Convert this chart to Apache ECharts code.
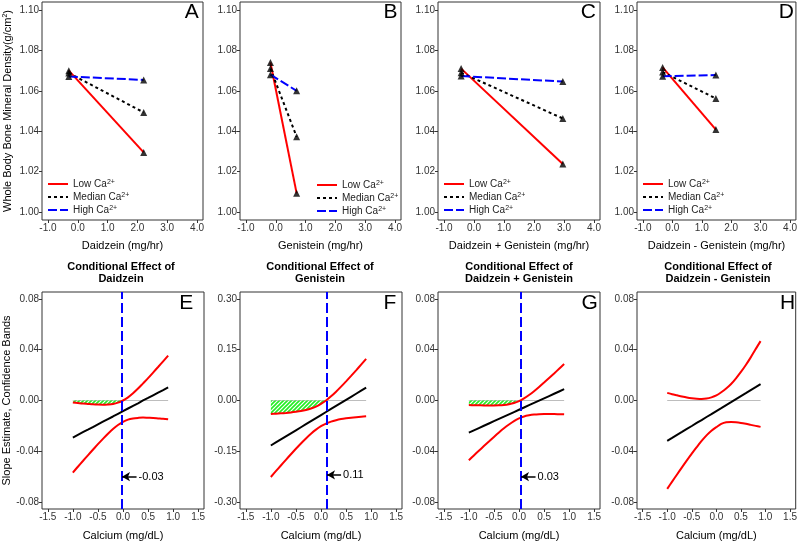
<!DOCTYPE html>
<html><head><meta charset="utf-8">
<script src="https://cdn.jsdelivr.net/npm/echarts@6/dist/echarts.min.js"></script>
<style>html,body{margin:0;padding:0;background:#fff}#c{width:800px;height:543px}</style>
</head><body><div id="c"></div>
<script>
// ---------- Top row: predicted BMD (g/cm2) at low / median / high calcium ----------
const xA = [-0.30, 2.21];
const lowA = [1.0700, 1.0295];
const medA = [1.0688, 1.0493];
const highA = [1.0671, 1.0654];

const xB = [-0.18, 0.70];
const lowB = [1.0740, 1.0092];
const medB = [1.0710, 1.0372];
const highB = [1.0680, 1.0600];

const xC = [-0.43, 2.96];
const lowC = [1.0710, 1.0237];
const medC = [1.0690, 1.0463];
const highC = [1.0673, 1.0646];

const xD = [-0.33, 1.48];
const lowD = [1.0716, 1.0408];
const medD = [1.0693, 1.0562];
const highD = [1.0672, 1.0678];

const topXTicks = [-1, 0, 1, 2, 3, 4];
const topYTicks = [1.00, 1.02, 1.04, 1.06, 1.08, 1.10];

// ---------- Bottom row: conditional slope estimate and confidence bands ----------
const calX = [-1.0,-0.9,-0.8,-0.7,-0.6,-0.5,-0.4,-0.3,-0.2,-0.1,0.0,0.1,0.2,0.3,0.4,0.5,0.6,0.7,0.8,0.9];

const estE = [-0.0292,-0.0271,-0.0250,-0.0230,-0.0209,-0.0188,-0.0167,-0.0146,-0.0126,-0.0105,-0.0084,-0.0063,-0.0042,-0.0022,0.0001,0.0020,0.0041,0.0062,0.0082,0.0103];
const upE  = [-0.0016,-0.0020,-0.0024,-0.0027,-0.0030,-0.0032,-0.0033,-0.0031,-0.0027,-0.0017,0.0000,0.0025,0.0057,0.0094,0.0135,0.0176,0.0220,0.0264,0.0309,0.0354];
const loE  = [-0.0568,-0.0522,-0.0477,-0.0432,-0.0388,-0.0344,-0.0302,-0.0262,-0.0225,-0.0193,-0.0168,-0.0151,-0.0142,-0.0137,-0.0134,-0.0136,-0.0138,-0.0141,-0.0144,-0.0148];
const jnE = -0.03;

const estF = [-0.133,-0.124,-0.115,-0.106,-0.097,-0.088,-0.079,-0.070,-0.061,-0.052,-0.043,-0.034,-0.025,-0.016,-0.007,0.002,0.011,0.020,0.029,0.038];
const upF  = [-0.0400,-0.0391,-0.0380,-0.0368,-0.0353,-0.0334,-0.0311,-0.0279,-0.0237,-0.0179,-0.0100,0.0001,0.0123,0.0261,0.0409,0.0566,0.0727,0.0892,0.1060,0.1229];
const loF  = [-0.2260,-0.2089,-0.1920,-0.1752,-0.1587,-0.1426,-0.1269,-0.1121,-0.0983,-0.0861,-0.0760,-0.0681,-0.0623,-0.0581,-0.0549,-0.0526,-0.0507,-0.0492,-0.0480,-0.0469];
const jnF = 0.11;

const estG = [-0.0253,-0.0235,-0.0217,-0.0199,-0.0181,-0.0163,-0.0145,-0.0127,-0.0109,-0.0091,-0.0073,-0.0055,-0.0037,-0.0019,-0.0001,0.0017,0.0035,0.0053,0.0071,0.0089];
const upG  = [-0.0035,-0.0037,-0.0038,-0.0039,-0.0039,-0.0039,-0.0038,-0.0035,-0.0029,-0.0020,-0.0005,0.0016,0.0043,0.0073,0.0106,0.0141,0.0177,0.0213,0.0250,0.0287];
const loG  = [-0.0471,-0.0433,-0.0396,-0.0359,-0.0323,-0.0287,-0.0252,-0.0219,-0.0189,-0.0162,-0.0141,-0.0126,-0.0117,-0.0111,-0.0108,-0.0107,-0.0107,-0.0107,-0.0108,-0.0109];
const jnG = 0.03;

const estH = [-0.0318,-0.0295,-0.0271,-0.0248,-0.0224,-0.0201,-0.0177,-0.0154,-0.0130,-0.0107,-0.0083,-0.0060,-0.0036,-0.0013,0.0011,0.0035,0.0058,0.0082,0.0105,0.0129];
const upH  = [0.0060,0.0050,0.0041,0.0032,0.0024,0.0018,0.0014,0.0012,0.0015,0.0025,0.0040,0.0065,0.0095,0.0130,0.0175,0.0225,0.0280,0.0340,0.0405,0.0468];
const loH  = [-0.0696,-0.0639,-0.0583,-0.0527,-0.0472,-0.0419,-0.0368,-0.0319,-0.0275,-0.0238,-0.0210,-0.0185,-0.0172,-0.0170,-0.0172,-0.0177,-0.0184,-0.0192,-0.0200,-0.0208];

const zeroX = [-1.0, 0.9];
const zeroY = [0, 0];

const botXTicks = [-1.5, -1.0, -0.5, 0.0, 0.5, 1.0, 1.5];
const botYTicksSmall = [-0.08, -0.04, 0.00, 0.04, 0.08];
const botYTicksF = [-0.30, -0.15, 0.00, 0.15, 0.30];

// ---------- build chart ----------
const FONT = '"Liberation Sans", Arial, Helvetica, sans-serif';
const zip = (a, b) => a.map((v, i) => [v, b[i]]);

function hatchPattern() {
  const c = document.createElement('canvas');
  c.width = 4; c.height = 4;
  const g = c.getContext('2d');
  g.fillStyle = 'rgba(255,255,255,0.5)';
  g.fillRect(0, 0, 4, 4);
  g.strokeStyle = '#22ee22';
  g.lineWidth = 1.6;
  g.beginPath();
  g.moveTo(-1, 5); g.lineTo(5, -1);
  g.moveTo(-1, 1); g.lineTo(1, -1);
  g.moveTo(3, 5); g.lineTo(5, 3);
  g.stroke();
  return c;
}
const HATCH = { image: hatchPattern(), repeat: 'repeat' };

const grids = [], xAxes = [], yAxes = [], series = [], legends = [], graphics = [];

function axisBase(ticks, fmtDigits) {
  return {
    axisLine: { show: false, onZero: false },
    splitLine: { show: false },
    axisTick: { show: true, length: 3, lineStyle: { color: '#333', width: 1 }, customValues: ticks },
    axisLabel: { color: '#333', fontSize: 10, fontFamily: FONT, margin: 3, customValues: ticks,
      formatter: v => Number(v).toFixed(fmtDigits) }
  };
}

const topPanels = [
  { x: xA, low: lowA, med: medA, high: highA, name: 'Daidzein (mg/hr)', box: [42, 161], letter: 'A', lc: 191.7, leg: { left: 47, top: 179 } },
  { x: xB, low: lowB, med: medB, high: highB, name: 'Genistein (mg/hr)', box: [240, 161], letter: 'B', lc: 390.5, leg: { left: 316, top: 180 } },
  { x: xC, low: lowC, med: medC, high: highC, name: 'Daidzein + Genistein (mg/hr)', box: [438, 162], letter: 'C', lc: 588.3, leg: { left: 443, top: 179 } },
  { x: xD, low: lowD, med: medD, high: highD, name: 'Daidzein - Genistein (mg/hr)', box: [637, 161], letter: 'D', lc: 786.3, leg: { left: 642, top: 179 } }
];

const styles = {
  Low: { color: '#ff0000', width: 2, type: 'solid' },
  Median: { color: '#000000', width: 2, type: [3, 3] },
  High: { color: '#0000ff', width: 2, type: [9, 3] }
};

topPanels.forEach((p, i) => {
  grids.push({ left: p.box[0], top: 2, width: p.box[1], height: 218, show: true, borderColor: '#333', borderWidth: 1, backgroundColor: '#fff' });
  xAxes.push(Object.assign(axisBase(topXTicks, 1), {
    type: 'value', gridIndex: i, min: -1.2, max: 4.2,
    name: p.name, nameLocation: 'middle', nameGap: 20,
    nameTextStyle: { color: '#000', fontSize: 11, fontFamily: FONT }
  }));
  const ya = Object.assign(axisBase(topYTicks, 2), { type: 'value', gridIndex: i, min: 0.996, max: 1.104 });
  if (i === 0) {
    ya.name = 'Whole Body Bone Mineral Density(g/cm{s|2})';
    ya.nameLocation = 'middle';
    ya.nameGap = 29;
    ya.nameTextStyle = { color: '#000', fontSize: 11, fontFamily: FONT, rich: { s: { fontSize: 7, verticalAlign: 'top', fontFamily: FONT, color: '#000' } } };
  }
  yAxes.push(ya);
  [['Low', p.low], ['Median', p.med], ['High', p.high]].forEach(([nm, ys]) => {
    series.push({ type: 'line', name: nm, xAxisIndex: i, yAxisIndex: i, data: zip(p.x, ys),
      symbol: 'none', lineStyle: styles[nm], itemStyle: { color: styles[nm].color }, z: 2, silent: true });
  });
  const pts = [].concat(zip(p.x, p.low), zip(p.x, p.med), zip(p.x, p.high));
  series.push({ type: 'scatter', name: 'pts' + i, xAxisIndex: i, yAxisIndex: i, data: pts,
    symbol: 'triangle', symbolSize: 7, itemStyle: { color: '#000' }, z: 3, silent: true });
  legends.push({
    orient: 'vertical', left: p.leg.left, top: p.leg.top, itemWidth: 20, itemHeight: 10, itemGap: 3,
    padding: 0, selectedMode: false, data: ['Low', 'Median', 'High'],
    formatter: n => n + ' Ca{s|2+}',
    itemStyle: { opacity: 0 },
    textStyle: { color: '#222', fontSize: 10, fontFamily: FONT, rich: { s: { fontSize: 7, verticalAlign: 'top', color: '#222', fontFamily: FONT } } }
  });
  graphics.push({ type: 'text', x: p.lc, y: 12.5, silent: true,
    style: { text: p.letter, font: '21px ' + FONT, fill: '#000', align: 'center', verticalAlign: 'middle' } });
});

const botPanels = [
  { est: estE, up: upE, lo: loE, jn: jnE, arrowY: -0.06, tail: 0.27, lab: '-0.03', range: 0.0855, ticks: botYTicksSmall, title: 'Daidzein', box: [42, 162], letter: 'E', lc: 186.3, tc: 121 },
  { est: estF, up: upF, lo: loF, jn: jnF, arrowY: -0.22, tail: 0.40, lab: '0.11', range: 0.3206, ticks: botYTicksF, title: 'Genistein', box: [240, 162], letter: 'F', lc: 390, tc: 320 },
  { est: estG, up: upG, lo: loG, jn: jnG, arrowY: -0.06, tail: 0.33, lab: '0.03', range: 0.0855, ticks: botYTicksSmall, title: 'Daidzein + Genistein', box: [438, 162], letter: 'G', lc: 589.7, tc: 519 },
  { est: estH, up: upH, lo: loH, jn: null, range: 0.0855, ticks: botYTicksSmall, title: 'Daidzein - Genistein', box: [637, 161], letter: 'H', lc: 787.5, tc: 718 }
];

botPanels.forEach((p, k) => {
  const i = k + 4;
  grids.push({ left: p.box[0], top: 292, width: p.box[1], height: 217, show: true, borderColor: '#333', borderWidth: 1, backgroundColor: '#fff' });
  xAxes.push(Object.assign(axisBase(botXTicks, 1), {
    type: 'value', gridIndex: i, min: -1.615, max: 1.615,
    name: 'Calcium (mg/dL)', nameLocation: 'middle', nameGap: 21,
    nameTextStyle: { color: '#000', fontSize: 11, fontFamily: FONT }
  }));
  const ya = Object.assign(axisBase(p.ticks, 2), { type: 'value', gridIndex: i, min: -p.range, max: p.range });
  if (k === 0) {
    ya.name = 'Slope Estimate, Confidence Bands';
    ya.nameLocation = 'middle';
    ya.nameGap = 29;
    ya.nameTextStyle = { color: '#000', fontSize: 11, fontFamily: FONT };
  }
  yAxes.push(ya);

  // zero reference
  series.push({ type: 'line', xAxisIndex: i, yAxisIndex: i, data: zip(zeroX, zeroY), symbol: 'none',
    lineStyle: { color: '#bdbdbd', width: 1 }, z: 1, silent: true });

  // region of significance (hatched)
  if (p.jn !== null) {
    const sig = zip(calX, p.up).filter(d => d[0] <= p.jn + 1e-9);
    sig.push([p.jn, 0]);
    series.push({ type: 'line', xAxisIndex: i, yAxisIndex: i, data: sig, symbol: 'none',
      lineStyle: { width: 0, opacity: 0 }, areaStyle: { color: HATCH, opacity: 1, origin: 'auto' }, z: 2, silent: true });
  }

  series.push({ type: 'line', xAxisIndex: i, yAxisIndex: i, data: zip(calX, p.up), symbol: 'none', smooth: 0.3,
    lineStyle: { color: '#ff0000', width: 2 }, z: 3, silent: true });
  series.push({ type: 'line', xAxisIndex: i, yAxisIndex: i, data: zip(calX, p.lo), symbol: 'none', smooth: 0.3,
    lineStyle: { color: '#ff0000', width: 2 }, z: 3, silent: true });

  const est = { type: 'line', xAxisIndex: i, yAxisIndex: i, data: zip(calX, p.est), symbol: 'none',
    lineStyle: { color: '#000', width: 2 }, z: 4, silent: true };
  if (p.jn !== null) {
    est.markLine = { silent: true, animation: false, symbol: ['none', 'none'], label: { show: false },
      lineStyle: { color: '#0000ff', type: [10, 4], width: 2 }, data: [{ xAxis: p.jn }] };
  }
  series.push(est);

  if (p.jn !== null) {
    series.push({ type: 'line', xAxisIndex: i, yAxisIndex: i, data: [], symbol: 'none', z: 5, silent: true,
      markLine: { silent: true, animation: false, symbol: ['none', 'arrow'], symbolSize: [7, 8],
        lineStyle: { color: '#000', width: 1.5, type: 'solid' },
        label: { show: true, position: 'start', formatter: p.lab, color: '#000', fontSize: 11, fontFamily: FONT, distance: 2 },
        data: [[{ coord: [p.tail, p.arrowY] }, { coord: [p.jn + 0.01, p.arrowY] }]] } });
  }

  graphics.push({ type: 'text', x: p.lc, y: 303.5, silent: true,
    style: { text: p.letter, font: '21px ' + FONT, fill: '#000', align: 'center', verticalAlign: 'middle' } });
  graphics.push({ type: 'text', x: p.tc, y: 260.5, silent: true,
    style: { text: 'Conditional Effect of\n' + p.title, font: 'bold 11px ' + FONT, fill: '#000', align: 'center', verticalAlign: 'top', lineHeight: 12.6 } });
});

const chart = echarts.init(document.getElementById('c'), null, { renderer: 'canvas' });
chart.setOption({
  animation: false,
  backgroundColor: '#fff',
  textStyle: { fontFamily: FONT },
  grid: grids, xAxis: xAxes, yAxis: yAxes, legend: legends, series: series, graphic: graphics
});
</script></body></html>
